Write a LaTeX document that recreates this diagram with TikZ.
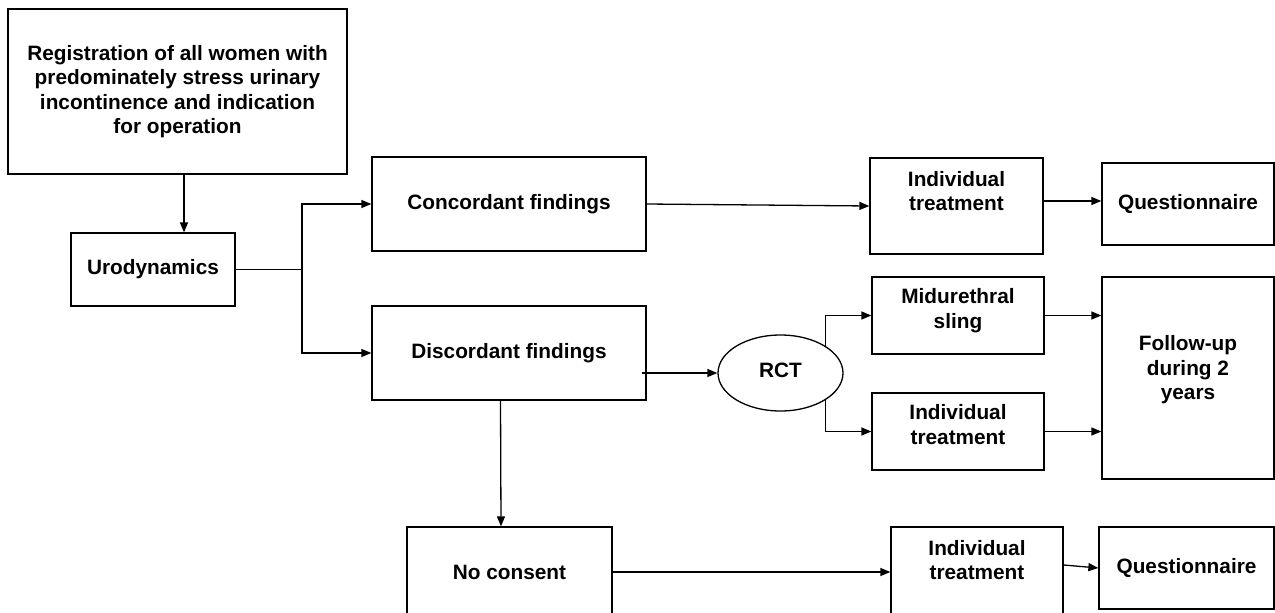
\documentclass[tikz,border=0pt]{standalone}
\usepackage{fontspec}
\setmainfont{Liberation Sans}
\usetikzlibrary{shapes.geometric,arrows.meta}
\begin{document}
\begin{tikzpicture}[x=1pt,y=-1pt,
  bx/.style={draw, line width=1.3pt, rectangle, inner sep=0pt, align=center, font=\fontsize{20.8}{24.5}\selectfont\bfseries},
  lbl/.style={align=center, font=\fontsize{20.8}{24.5}\selectfont\bfseries},
  arr/.style={line width=1.3pt, -{Triangle[length=10pt,width=8pt]}},
  ln/.style={line width=1.3pt}]
\useasboundingbox (0,0) rectangle (1275,613);
\node[bx, minimum width=339, minimum height=165] (reg) at (177.5,91.5) {Registration of all women with\\predominately stress urinary\\incontinence and indication\\for operation};
\node[bx, minimum width=164, minimum height=73] (uro) at (153,269.5) {Urodynamics};
\node[bx, minimum width=274, minimum height=94] (conc) at (509,204) {Concordant findings};
\node[bx, minimum width=274, minimum height=94] (disc) at (509,353) {Discordant findings};
\node[draw, line width=1.3pt, ellipse, inner sep=0pt, minimum width=125, minimum height=76, font=\fontsize{20.8}{24.5}\selectfont\bfseries] (rct) at (780.5,373) {\raisebox{6pt}{RCT}};
\node[bx, minimum width=173, minimum height=96, label={[lbl,yshift=15]center:Individual\\treatment}] (ind1) at (956.5,206) {};
\node[bx, minimum width=172, minimum height=82] (q1) at (1188,204) {Questionnaire};
\node[bx, minimum width=172, minimum height=77, label={[lbl,yshift=5]center:Midurethral\\sling}] (sling) at (958,315.5) {};
\node[bx, minimum width=172, minimum height=77, label={[lbl,yshift=7]center:Individual\\treatment}] (ind2) at (958,431.5) {};
\node[bx, minimum width=172, minimum height=202, label={[lbl,yshift=8]center:Follow-up\\during 2\\years}] (fu) at (1188,378) {};
\node[bx, minimum width=205, minimum height=90] (nc) at (509.5,572) {No consent};
\node[bx, minimum width=172, minimum height=90, label={[lbl,yshift=12]center:Individual\\treatment}] (ind3) at (977,572) {};
\node[bx, minimum width=175, minimum height=82] (q2) at (1186.5,568) {Questionnaire};
\coordinate (j) at (302,269.5);
\draw[arr] ([xshift=6.5]reg.south) -- ([xshift=6.5]reg.south |- uro.north);
\draw[ln] (uro.east) -- (j);
\draw[arr] (j) |- (conc.west);
\draw[arr] (j) |- (disc.west);
\draw[arr] (conc.east) -- (ind1.west);
\draw[arr] ([yshift=5]ind1.east) -- ([yshift=3]q1.west);
\draw[arr] ([xshift=-5]rct.west -| disc.east) -- (rct.west);
\draw[arr] (rct.north east) |- (sling.west);
\draw[arr] (rct.south east) |- (ind2.west);
\draw[arr] (sling.east) -- (sling.east -| fu.west);
\draw[arr] (ind2.east) -- (ind2.east -| fu.west);
\draw[arr] ([xshift=-8.5]disc.south) -- ([xshift=-8.5]nc.north);
\draw[arr] (nc.east) -- (ind3.west);
\draw[arr] ([yshift=7]ind3.east) -- (q2.west);
\end{tikzpicture}
\end{document}
